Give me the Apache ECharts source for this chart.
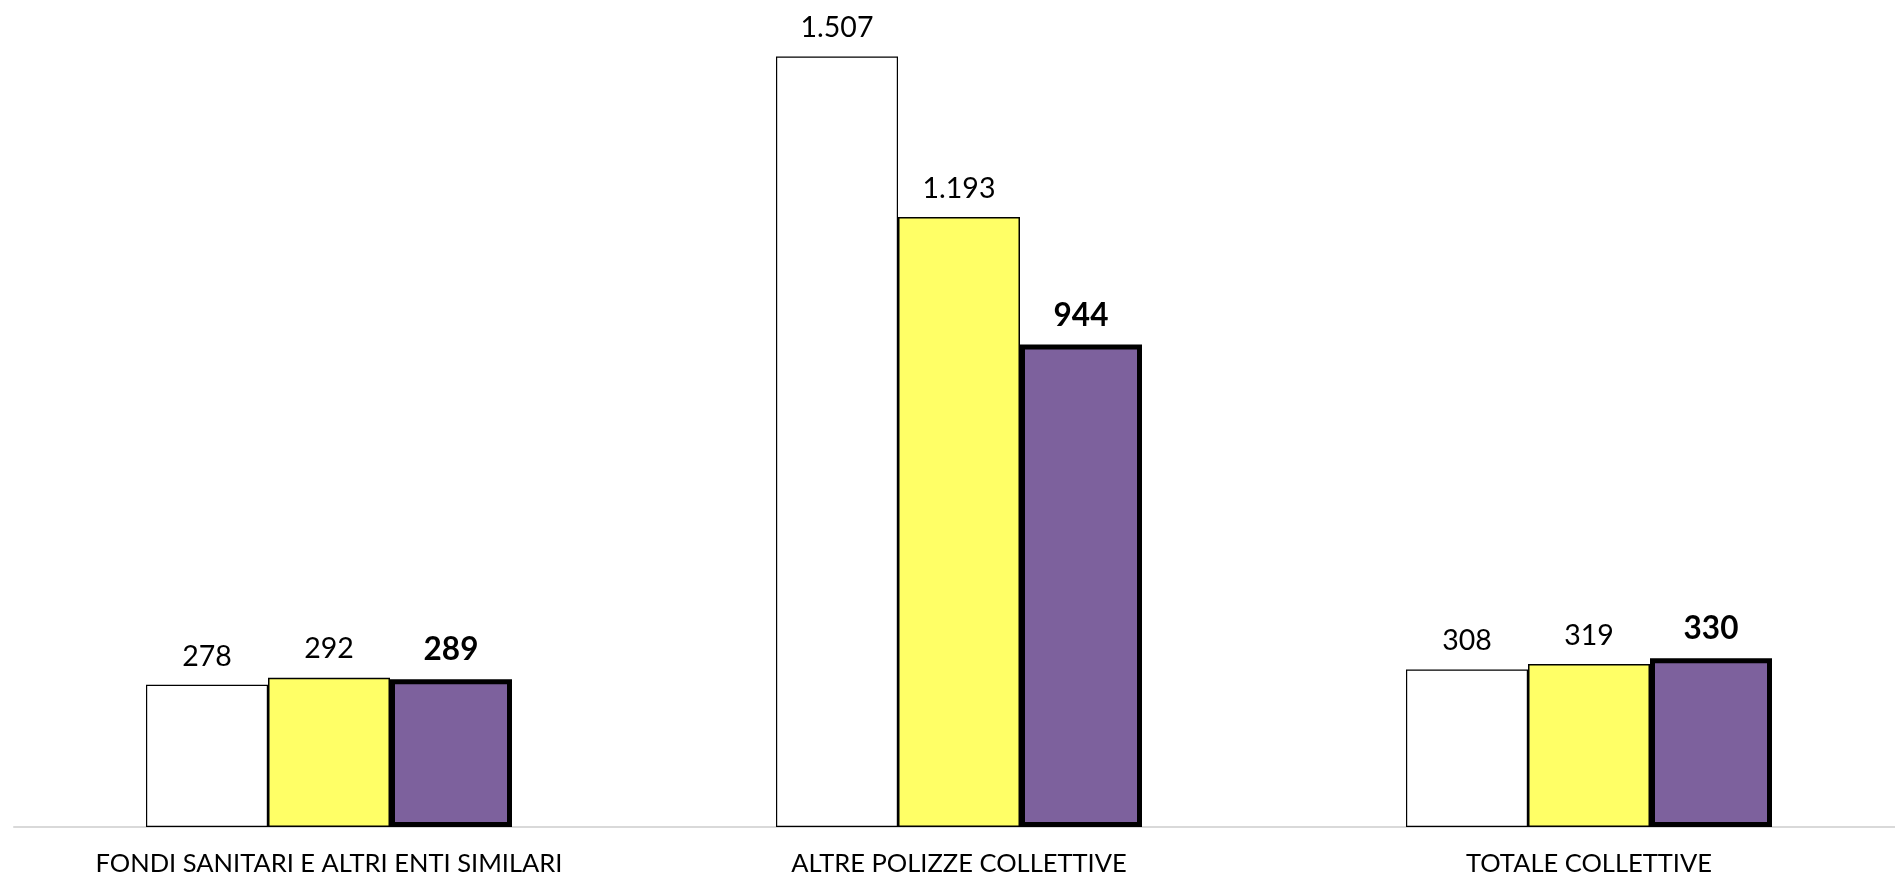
<!DOCTYPE html>
<html>
<head>
<meta charset="utf-8">
<script src="https://cdn.jsdelivr.net/npm/echarts@6/dist/echarts.min.js"></script>
<style>
html,body{margin:0;padding:0;background:#fff;overflow:hidden;width:1895px;height:880px;}
#chart{width:1904px;height:880px;}
</style>
</head>
<body>
<div id="chart"></div>
<script>
const categories = ['FONDI SANITARI E ALTRI ENTI SIMILARI', 'ALTRE POLIZZE COLLETTIVE', 'TOTALE COLLETTIVE'];
const seriesNames = ['Periodo 1', 'Periodo 2', 'Periodo 3'];
const values1 = [278, 1507, 308];
const values2 = [292, 1193, 319];
const values3 = [289, 944, 330];

function fmt(v) {
  return String(v).replace(/\B(?=(\d{3})+(?!\d))/g, '.');
}

const chart = echarts.init(document.getElementById('chart'));
const font = 'Lato, "Open Sans", sans-serif';

chart.setOption({
  animation: false,
  backgroundColor: '#ffffff',
  grid: { left: 14, right: 0, top: 9, height: 818 },
  xAxis: {
    type: 'category',
    data: categories,
    axisLine: { show: true, lineStyle: { color: '#d9d9d9', width: 2 } },
    axisTick: { show: false },
    axisLabel: { color: '#000', fontFamily: font, fontSize: 25.5, margin: 24, interval: 0 }
  },
  yAxis: {
    type: 'value',
    min: 0,
    max: 1600,
    show: false,
    splitLine: { show: false }
  },
  series: [
    {
      name: seriesNames[0],
      type: 'bar',
      data: values1,
      barWidth: 122,
      barGap: '0%',
      itemStyle: { color: '#ffffff', borderColor: '#000', borderWidth: 1.2 },
      label: { show: true, position: 'top', distance: 14, color: '#000', fontFamily: font, fontSize: 28.5, formatter: p => fmt(p.value) }
    },
    {
      name: seriesNames[1],
      type: 'bar',
      data: values2,
      barWidth: 122,
      barGap: '0%',
      itemStyle: { color: '#ffff66', borderColor: '#000', borderWidth: 1.5 },
      label: { show: true, position: 'top', distance: 14, color: '#000', fontFamily: font, fontSize: 28.5, formatter: p => fmt(p.value) }
    },
    {
      name: seriesNames[2],
      type: 'bar',
      data: values3,
      barWidth: 122,
      barGap: '0%',
      itemStyle: { color: '#7d619d', borderColor: '#000', borderWidth: 5 },
      label: { show: true, position: 'top', distance: 13, color: '#000', fontFamily: font, fontSize: 31.5, fontWeight: 'bold', formatter: p => fmt(p.value) }
    }
  ]
});
</script>
</body>
</html>
